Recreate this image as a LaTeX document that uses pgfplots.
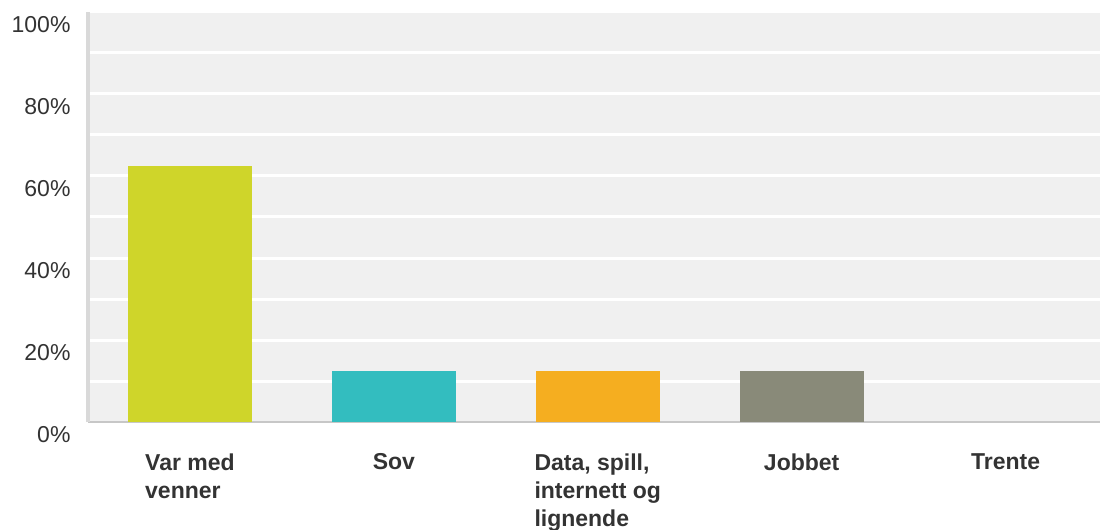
\documentclass[border=0pt]{standalone}
\usepackage{pgfplots}
\pgfplotsset{compat=1.18}
\usepackage{fontspec}
\setmainfont{Liberation Sans}
\definecolor{bgc}{HTML}{F0F0F0}
\definecolor{lime}{HTML}{CFD52A}
\definecolor{teal}{HTML}{33BDBF}
\definecolor{amber}{HTML}{F5AE20}
\definecolor{stone}{HTML}{898A79}
\definecolor{txt}{HTML}{333333}
\begin{document}
\begin{tikzpicture}
\useasboundingbox (-88bp,-108bp) rectangle (1012bp,422bp);
\begin{axis}[
    at={(0,0)}, anchor=south west,
    scale only axis,
    width=1012bp, height=410bp,
    xmin=-0.5, xmax=4.463,
    ymin=0, ymax=100,
    axis x line*=bottom, axis y line*=left,
    x axis line style={draw=black!22, line width=2bp, -},
    y axis line style={draw=black!15, line width=4bp, -},
    axis background/.style={fill=bgc},
    xtick={0,1,2,3,4},
    xticklabels={{Var med\\venner},Sov,{Data, spill,\\internett og\\lignende},Jobbet,Trente},
    xticklabel style={font=\fontsize{23bp}{28bp}\selectfont\bfseries, text=txt, align=left, anchor=north, yshift=-28bp},
    ytick={0,20,...,100},
    minor ytick={10,30,...,90},
    yticklabel={\pgfmathprintnumber{\tick}\%},
    yticklabel style={font=\fontsize{23bp}{25bp}\selectfont, text=txt, yshift=-13bp, xshift=-14bp},
    /pgf/number format/assume math mode=true,
    major tick length=0pt, minor tick length=0pt,
    ymajorgrids, yminorgrids,
    major grid style={draw=white, line width=3bp},
    minor grid style={draw=white, line width=3bp},
    every axis plot/.append style={ybar, bar width=124bp, bar shift=0pt, draw=none},
]
\addplot[fill=lime] coordinates {(0,62.5)};
\addplot[fill=teal] coordinates {(1,12.5)};
\addplot[fill=amber] coordinates {(2,12.5)};
\addplot[fill=stone] coordinates {(3,12.5)};
\end{axis}
\end{tikzpicture}
\end{document}
